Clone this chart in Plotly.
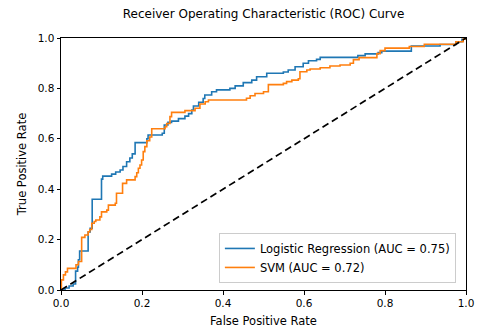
import plotly.graph_objects as go

# ROC operating points (false positive rate, true positive rate) at each threshold step
lr_fpr = [0, 0.01, 0.02, 0.03, 0.036, 0.041, 0.043, 0.046, 0.067, 0.072, 0.077, 0.1, 0.103,
          0.125, 0.135, 0.146, 0.153, 0.162, 0.17, 0.176, 0.183, 0.212, 0.215, 0.25, 0.255,
          0.264, 0.273, 0.29, 0.306, 0.315, 0.323, 0.327, 0.34, 0.351, 0.355, 0.372, 0.384,
          0.417, 0.43, 0.45, 0.471, 0.483, 0.508, 0.549, 0.561, 0.578, 0.598, 0.611, 0.631,
          0.64, 0.733, 0.751, 0.783, 0.792, 0.865, 0.936, 0.975, 0.99, 1.0]
lr_tpr = [0, 0.008, 0.016, 0.024, 0.075, 0.09, 0.12, 0.155, 0.23, 0.245, 0.36, 0.44, 0.452,
          0.46, 0.468, 0.476, 0.49, 0.509, 0.524, 0.54, 0.585, 0.6, 0.615, 0.622, 0.655,
          0.665, 0.67, 0.68, 0.69, 0.70, 0.714, 0.73, 0.745, 0.76, 0.774, 0.787, 0.794,
          0.80, 0.81, 0.823, 0.833, 0.846, 0.86, 0.865, 0.873, 0.886, 0.9, 0.91, 0.915,
          0.923, 0.93, 0.937, 0.942, 0.948, 0.968, 0.974, 0.985, 0.995, 1.0]

svm_fpr = [0, 0.001, 0.006, 0.011, 0.016, 0.037, 0.043, 0.051, 0.059, 0.067, 0.071, 0.076,
           0.082, 0.086, 0.096, 0.1, 0.113, 0.117, 0.134, 0.137, 0.152, 0.162, 0.183, 0.187,
           0.191, 0.195, 0.199, 0.203, 0.207, 0.212, 0.219, 0.224, 0.257, 0.261, 0.269, 0.273,
           0.306, 0.331, 0.343, 0.356, 0.364, 0.458, 0.467, 0.479, 0.5, 0.512, 0.549, 0.557,
           0.57, 0.586, 0.59, 0.607, 0.615, 0.64, 0.664, 0.689, 0.714, 0.722, 0.736, 0.78,
           0.788, 0.8, 0.86, 0.897, 0.975, 0.993, 1.0]
svm_tpr = [0, 0.04, 0.06, 0.072, 0.086, 0.1, 0.113, 0.209, 0.218, 0.231, 0.24, 0.265,
           0.272, 0.278, 0.29, 0.31, 0.317, 0.337, 0.344, 0.384, 0.423, 0.437, 0.45, 0.465,
           0.483, 0.496, 0.516, 0.549, 0.569, 0.592, 0.607, 0.64, 0.648, 0.661, 0.688, 0.705,
           0.712, 0.721, 0.738, 0.747, 0.754, 0.761, 0.771, 0.78, 0.787, 0.815, 0.82, 0.827,
           0.833, 0.838, 0.866, 0.873, 0.877, 0.882, 0.889, 0.893, 0.9, 0.914, 0.922, 0.938,
           0.95, 0.96, 0.966, 0.975, 0.985, 0.996, 1.0]

lr_auc = 0.75
svm_auc = 0.72
chance = [0, 1]
ticks = [0, 0.2, 0.4, 0.6, 0.8, 1.0]

FONT = "DejaVu Sans"

fig = go.Figure()
fig.add_trace(go.Scatter(
    x=lr_fpr, y=lr_tpr, mode="lines", line_shape="hv",
    line=dict(color="#1f77b4", width=1.6),
    name=f"Logistic Regression (AUC = {lr_auc:.2f})"))
fig.add_trace(go.Scatter(
    x=svm_fpr, y=svm_tpr, mode="lines", line_shape="hv",
    line=dict(color="#ff7f0e", width=1.6),
    name=f"SVM (AUC = {svm_auc:.2f})"))
fig.add_trace(go.Scatter(
    x=chance, y=chance, mode="lines",
    line=dict(color="black", width=1.7, dash="7px,4px"),
    showlegend=False))

axis_common = dict(
    range=[0, 1], tickvals=ticks, tickformat=".1f", automargin=False,
    showline=True, linecolor="black", linewidth=1, mirror=True,
    ticks="outside", ticklen=3.5, tickwidth=0.8, tickcolor="black",
    showgrid=False, zeroline=False,
    tickfont=dict(family=FONT, size=10.5, color="black"),
)

fig.update_layout(
    width=479, height=333,
    margin=dict(l=61, r=13, t=38, b=43),
    paper_bgcolor="white", plot_bgcolor="white",
    font=dict(family=FONT, color="black"),
    title=dict(text="Receiver Operating Characteristic (ROC) Curve",
               font=dict(family=FONT, size=12, color="black"),
               x=0.5, xref="paper", xanchor="center",
               y=1 - 14 / 333, yanchor="middle"),
    xaxis=dict(axis_common, title=dict(text="False Positive Rate",
                                      font=dict(family=FONT, size=11.5), standoff=8)),
    yaxis=dict(axis_common, title=dict(text="True Positive Rate",
                                      font=dict(family=FONT, size=11.5), standoff=8)),
    legend=dict(x=0.975, y=0.028, xanchor="right", yanchor="bottom",
                bgcolor="rgba(255,255,255,0.8)", bordercolor="#cccccc", borderwidth=1,
                font=dict(family=FONT, size=11.5, color="black"),
                itemwidth=30, tracegroupgap=0),
)

fig.write_html("out.html")
